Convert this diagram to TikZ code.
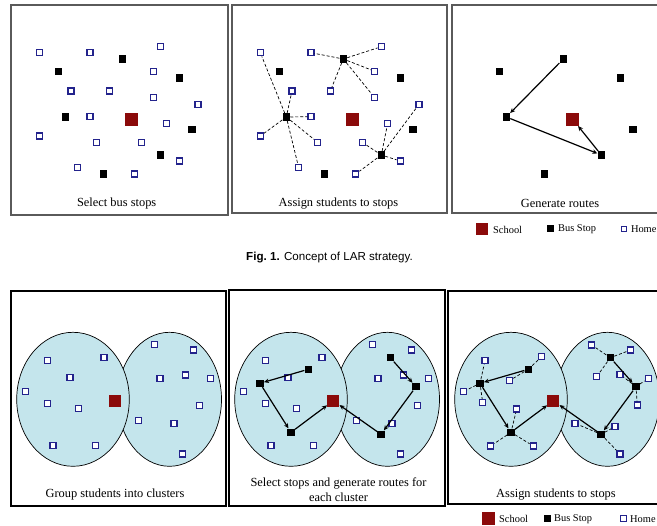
\documentclass[tikz,border=0pt]{standalone}
\usepackage{fontspec}
\setmainfont{Liberation Serif}
\newfontfamily\capfont{Liberation Sans}
\usetikzlibrary{arrows.meta}
\definecolor{homeblue}{HTML}{23238C}
\definecolor{schoolred}{HTML}{8B0A0A}
\definecolor{clusterblue}{HTML}{C4E5EC}
\definecolor{framegray}{HTML}{5A5A5A}
\def\tophomes{1/39.3/52.7,2/90/52.7,3/160.3/46.7,4/153.7/71.3,5/71/91,6/109.3/91,7/153.7/97.7,8/198/104.3,9/90/116.7,10/166.7/123.3,11/39.3/136,12/96.7/142.3,13/141.3/142.3,14/179.3/161,15/77.7/167.7,16/134.7/174}
\def\topstops{1/122.3/59,2/58.7/71.3,3/179.3/78,4/65.3/117,5/192/129.7,6/160.3/155,7/103.3/174}
\def\bothomes{1/47.7/360.7,2/104/357.7,3/70/377.3,4/25.7/391.7,5/47.7/403.3,6/78.7/408.7,7/53/445.3,8/95.7/445.3,9/154.3/344.3,10/193.7/350,11/160/378.3,12/185.3/375,13/210.3/378.3,14/199.3/405.7,15/138.3/420.3,16/174/423.3,17/182.3/454}
\def\thirdhomes{1/485/360.7,2/541.7/356.7,3/509.3/380.7,4/463.3/391.7,5/482.7/402.7,6/516.7/409,7/490.7/446,8/533.3/446,9/591.7/345,10/630.7/350,11/596.7/376.7,12/620/374.3,13/648.3/378.3,14/637.3/405,15/575/423.3,16/615/426.7,17/620/454}
\def\botstops{1/90.3/369.3,2/42/383.3,3/73/432.3,4/172.3/357.7,5/198/386.7,6/163/434.3}
\begin{document}
\begin{tikzpicture}[x=1pt,y=-1pt,
  home/.style={draw=homeblue,line width=1.4pt,fill=white,minimum size=6pt,inner sep=0pt},
  stop/.style={fill=black,minimum size=7.5pt,inner sep=0pt},
  school/.style={fill=schoolred,minimum size=13pt,inner sep=0pt},
  bschool/.style={fill=schoolred,minimum size=12pt,inner sep=0pt},
  asg/.style={line width=0.7pt,dash pattern=on 3pt off 2pt},
  rt/.style={line width=1.2pt,-{Stealth[length=5pt,width=4.5pt]}},
  topframe/.style={draw=framegray,line width=1.3pt},
  botframe/.style={draw=black,line width=1.5pt},
  cluster/.style={fill=clusterblue,draw=black,line width=0.7pt},
  lbl/.style={font=\fontsize{12.4}{15}\selectfont,align=center},
  leg/.style={font=\fontsize{10.4}{12}\selectfont,anchor=west,inner sep=0pt}]
\useasboundingbox (0,0) rectangle (657,526);
\clip (0,0) rectangle (657,526);
\fill[white] (0,0) rectangle (657,526);
% ---------- top row ----------
\draw[topframe] (11,5) rectangle (228,215);
\draw[topframe] (232,5) rectangle (447,213);
\draw[topframe] (452,5) rectangle (670,213);
% panel 1
\foreach \i/\x/\y in \tophomes {\node[home] (ah\i) at (\x,\y) {};}
\foreach \i/\x/\y in \topstops {\node[stop] (as\i) at (\x,\y) {};}
\node[school] (asc) at (131.7,119.3) {};
\node[lbl] (al) at (116.7,203.5) {Select bus stops};
% panel 2
\begin{scope}[xshift=221pt]
\foreach \i/\x/\y in \tophomes {\node[home] (bh\i) at (\x,\y) {};}
\foreach \i/\x/\y in \topstops {\node[stop] (bs\i) at (\x,\y) {};}
\node[school] (bsc) at (131.7,119.3) {};
\end{scope}
\foreach \h in {1,5,9,11,12,15} {\draw[asg] (bs4) -- (bh\h);}
\foreach \h in {2,3,4,6,7} {\draw[asg] (bs1) -- (bh\h);}
\foreach \h in {8,10,13,14,16} {\draw[asg] (bs6) -- (bh\h);}
\node[lbl] (bl) at (338.5,203.5) {Assign students to stops};
% panel 3
\begin{scope}[xshift=441pt]
\foreach \i/\x/\y in \topstops {\node[stop] (cs\i) at (\x,\y) {};}
\node[school] (csc) at (131.7,119.3) {};
\end{scope}
\draw[rt] (cs1) -- (cs4);
\draw[rt] (cs4) -- (cs6);
\draw[rt] (cs6) -- (csc);
\node[lbl] (cl) at (560,203.5) {Generate routes};
% legend top
\node[school,minimum size=12pt] (lsc1) at (482,229) {};
\node[leg] (lsct1) at (493,229.5) {School};
\node[stop,minimum size=7pt] (lst1) at (550.5,229) {};
\node[leg] (lstt1) at (558,229.5) {Bus Stop};
\node[home,minimum size=5.5pt] (lh1) at (624,229) {};
\node[leg] (lht1) at (630.8,229.5) {Home};
% caption
\node[font=\capfont\fontsize{11.6}{13}\selectfont] (cap) at (329.5,258) {\textbf{Fig.\ 1.} Concept of LAR strategy.};
% ---------- bottom row ----------
\draw[botframe] (11,291) rectangle (226,506);
\draw[botframe] (229,290) rectangle (445,506);
\draw[botframe] (448,291) rectangle (670,504);
\foreach \sx in {0,218,438} {
  \draw[cluster] (\sx+169.5,399.3) ellipse [x radius=52pt,y radius=67pt];
  \draw[cluster] (\sx+73,399.3) ellipse [x radius=56.3pt,y radius=67pt];
}
% panel 1
\foreach \i/\x/\y in \bothomes {\node[home] (dh\i) at (\x,\y) {};}
\node[bschool] (dsc) at (115.3,400.7) {};
\node[lbl] (dl) at (115,495) {Group students into clusters};
% panel 2
\begin{scope}[xshift=218pt]
\foreach \i/\x/\y in \bothomes {\node[home] (eh\i) at (\x,\y) {};}
\foreach \i/\x/\y in \botstops {\node[stop] (es\i) at (\x,\y) {};}
\node[bschool] (esc) at (115.3,400.7) {};
\end{scope}
\draw[rt] (es1) -- (es2);
\draw[rt] (es2) -- (es3);
\draw[rt] (es3) -- (esc);
\draw[rt] (es4) -- (es5);
\draw[rt] (es5) -- (es6);
\draw[rt] (es6) -- (esc);
\node[lbl] (el) at (338.5,489.8) {Select stops and generate routes for\\each cluster};
% panel 3
\foreach \i/\x/\y in \thirdhomes {\node[home] (fh\i) at (\x,\y) {};}
\begin{scope}[xshift=438pt]
\foreach \i/\x/\y in \botstops {\node[stop] (fs\i) at (\x,\y) {};}
\node[bschool] (fsc) at (115.3,400.7) {};
\end{scope}
\foreach \s/\h in {1/2,1/3,2/1,2/4,2/5,3/6,3/7,3/8,4/9,4/10,4/11,5/12,5/13,5/14,6/15,6/16,6/17} {\draw[asg] (fs\s) -- (fh\h);}
\draw[rt] (fs1) -- (fs2);
\draw[rt] (fs2) -- (fs3);
\draw[rt] (fs3) -- (fsc);
\draw[rt] (fs4) -- (fs5);
\draw[rt] (fs5) -- (fs6);
\draw[rt] (fs6) -- (fsc);
\node[lbl] (fl) at (556,495) {Assign students to stops};
% legend bottom
\node[school,minimum size=13pt] (lsc2) at (488.5,518.5) {};
\node[leg] (lsct2) at (499,519) {School};
\node[stop,minimum size=7pt] (lst2) at (547,518.5) {};
\node[leg] (lstt2) at (554,519) {Bus Stop};
\node[home,minimum size=5.5pt] (lh2) at (623.5,518.5) {};
\node[leg] (lht2) at (630,519) {Home};
\end{tikzpicture}
\end{document}
